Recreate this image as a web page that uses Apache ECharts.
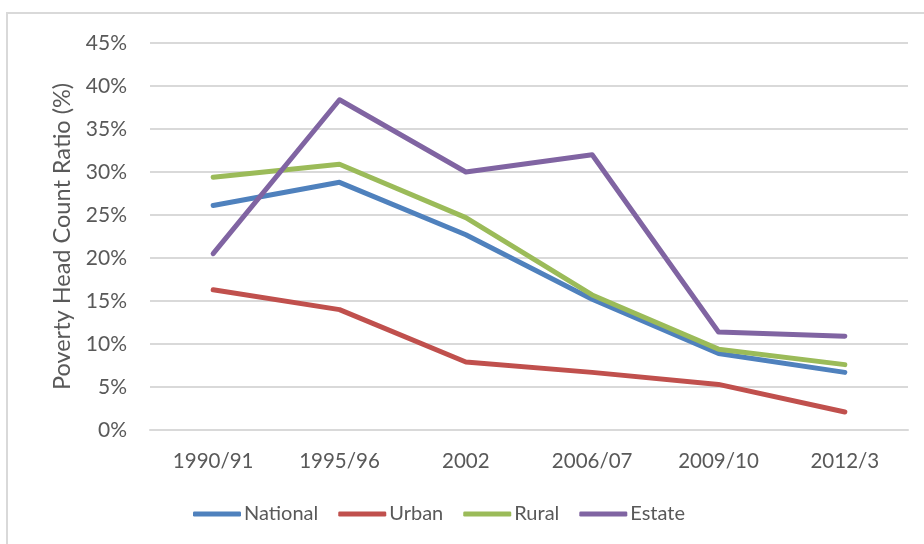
<!DOCTYPE html>
<html>
<head>
<meta charset="utf-8">
<script src="https://cdn.jsdelivr.net/npm/echarts@6/dist/echarts.min.js"></script>
<style>
  html, body { margin: 0; padding: 0; background: #fff; }
  #chart { width: 924px; height: 544px; }
</style>
</head>
<body>
<div id="chart"></div>
<script>
const years = ['1990/91', '1995/96', '2002', '2006/07', '2009/10', '2012/3'];
const national = [26.1, 28.8, 22.7, 15.2, 8.9, 6.7];
const urban = [16.3, 14.0, 7.9, 6.7, 5.3, 2.1];
const rural = [29.4, 30.9, 24.7, 15.7, 9.4, 7.6];
const estate = [20.5, 38.4, 30.0, 32.0, 11.4, 10.9];

const FONT = 'Lato, "Open Sans", sans-serif';
const TXT = '#595959';

const mk = (name, data, color) => ({
  name: name,
  type: 'line',
  data: data,
  symbol: 'none',
  lineStyle: { width: 5, color: color, cap: 'round', join: 'round' },
  itemStyle: { color: color }
});

const chart = echarts.init(document.getElementById('chart'));
chart.setOption({
  animation: false,
  textStyle: { fontFamily: FONT },
  graphic: [{
    type: 'rect',
    shape: { x: 7, y: 13, width: 930, height: 560 },
    style: { fill: 'none', stroke: '#d9d9d9', lineWidth: 2 },
    silent: true
  }],
  grid: { left: 150, right: 16, top: 43, bottom: 114 },
  legend: {
    bottom: 15,
    left: 188,
    itemWidth: 48,
    itemHeight: 5,
    itemGap: 20,
    icon: 'roundRect',
    textStyle: { color: TXT, fontSize: 20, fontFamily: FONT, padding: [0, 0, 0, -2] },
    data: ['National', 'Urban', 'Rural', 'Estate']
  },
  xAxis: {
    type: 'category',
    data: years,
    boundaryGap: true,
    axisLine: { show: true, lineStyle: { color: '#d9d9d9', width: 2 } },
    axisTick: { show: false },
    axisLabel: { color: TXT, fontSize: 20.5, margin: 21 }
  },
  yAxis: {
    type: 'value',
    min: 0,
    max: 45,
    interval: 5,
    name: 'Poverty Head Count Ratio (%)',
    nameLocation: 'middle',
    nameGap: 75,
    nameTextStyle: { color: TXT, fontSize: 23.5, fontFamily: FONT },
    axisLine: { show: false },
    axisTick: { show: false },
    axisLabel: { color: TXT, fontSize: 21, margin: 23, formatter: '{value}%' },
    splitLine: { lineStyle: { color: '#d9d9d9', width: 2 } }
  },
  series: [
    mk('National', national, '#4F81BD'),
    mk('Urban', urban, '#C0504D'),
    mk('Rural', rural, '#9BBB59'),
    mk('Estate', estate, '#8064A2')
  ]
});
</script>
</body>
</html>
